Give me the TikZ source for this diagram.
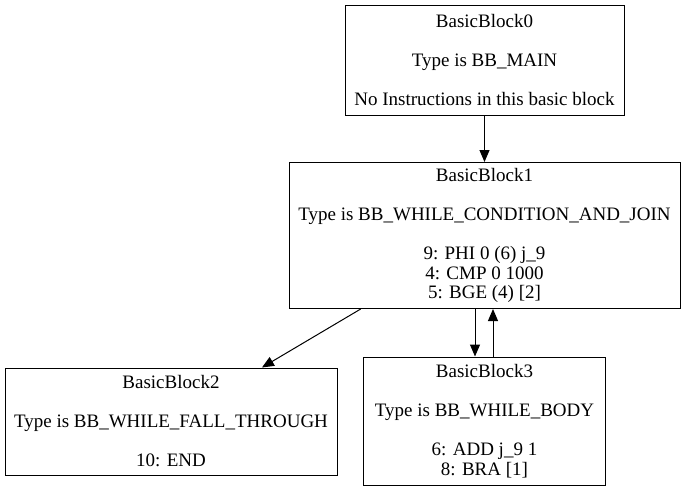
\documentclass[tikz,border=0pt]{standalone}
\usepackage{fontspec}
\setmainfont{Liberation Serif}
\usetikzlibrary{arrows.meta}
\begin{document}
\begin{tikzpicture}[x=1pt,y=-1pt,
  block/.style={draw=black, line width=1pt, rectangle, align=center, inner sep=0pt,
    font=\fontsize{19}{19.5}\selectfont},
  edge/.style={line width=1pt, -{Triangle[length=12pt,width=10pt]}}]
\useasboundingbox (0,0) rectangle (685,491);
\node[block, minimum width=279pt, minimum height=110pt] (bb0) at (484.5,60)
  {BasicBlock0\\[19.5pt]Type is BB\_MAIN\\[19.5pt]No Instructions in this basic block};
\node[block, minimum width=391pt, minimum height=146pt] (bb1) at (484.5,235.5)
  {BasicBlock1\\[19.5pt]Type is BB\_WHILE\_CONDITION\_AND\_JOIN\\[19.5pt]9: PHI 0 (6) j\_9\\4: CMP 0 1000\\5: BGE (4) [2]};
\node[block, minimum width=332pt, minimum height=107pt] (bb2) at (171,421.5)
  {BasicBlock2\\[19.5pt]Type is BB\_WHILE\_FALL\_THROUGH\\[19.5pt]10: END};
\node[block, minimum width=242pt, minimum height=128pt] (bb3) at (484.5,421)
  {BasicBlock3\\[19.5pt]Type is BB\_WHILE\_BODY\\[19.5pt]6: ADD j\_9 1\\8: BRA [1]};
\draw[edge] (bb0) -- (bb1);
\draw[edge] (bb1) -- (bb2);
\draw[edge] ([xshift=-9.5pt]bb1.south) -- ([xshift=-9.5pt]bb3.north);
\draw[edge] ([xshift=8.5pt]bb3.north) -- ([xshift=8.5pt]bb1.south);
\end{tikzpicture}
\end{document}
